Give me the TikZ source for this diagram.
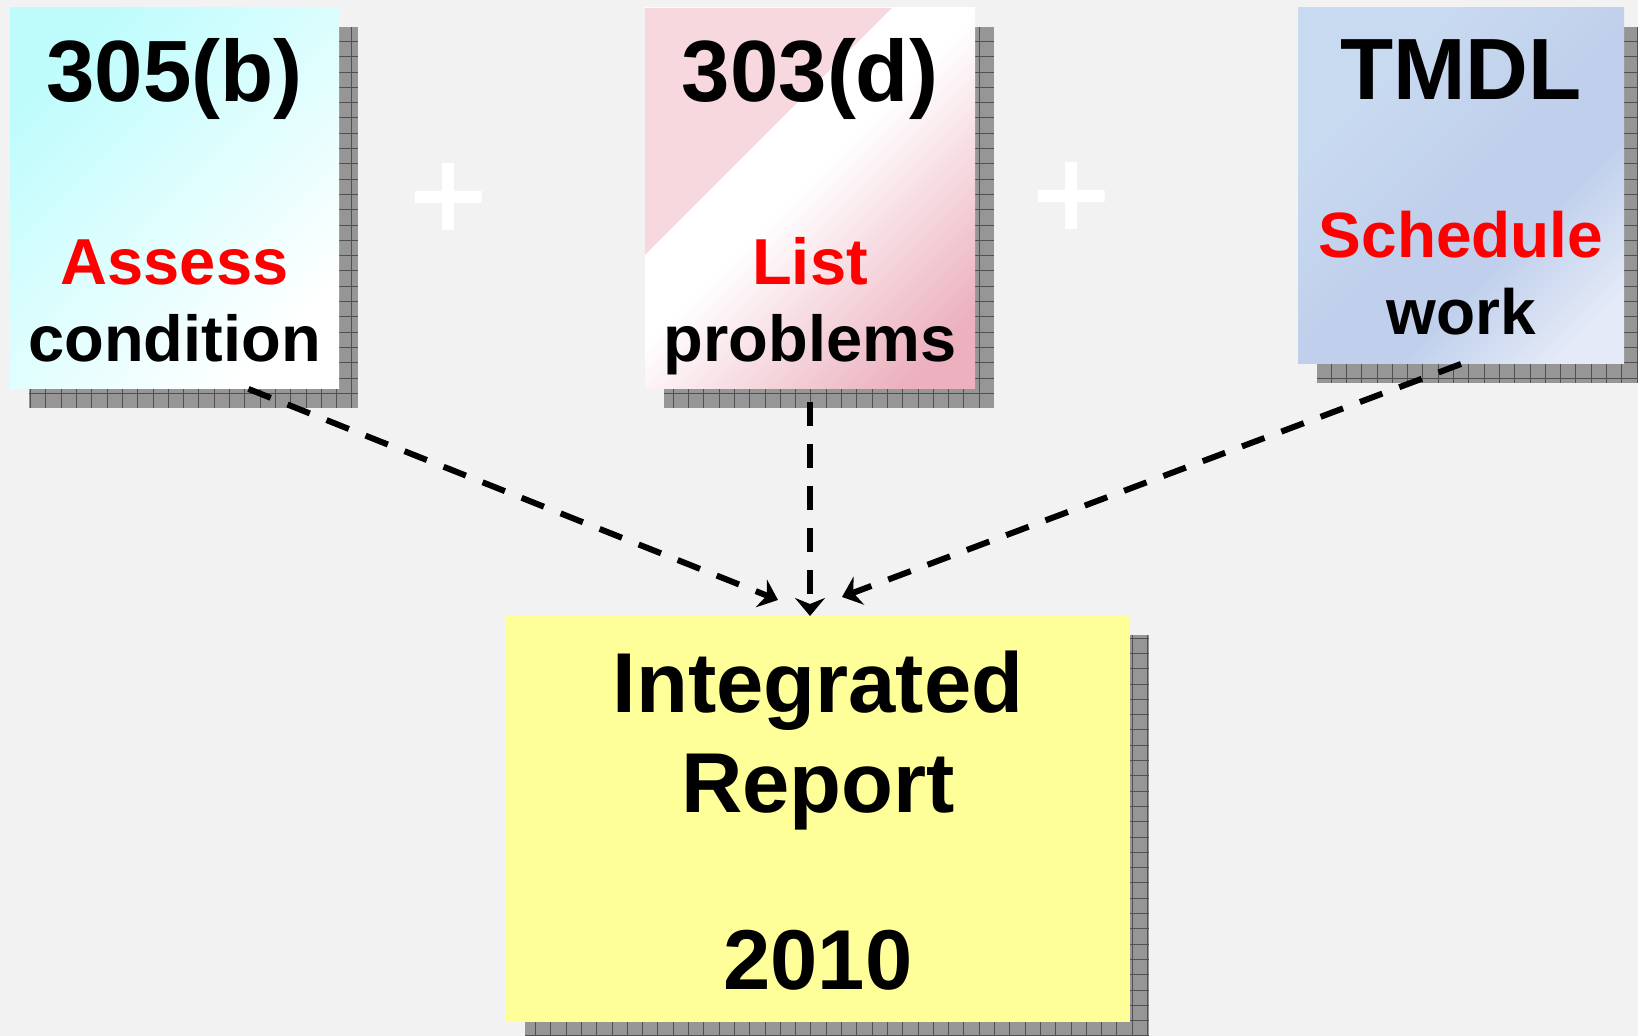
\documentclass[tikz,border=0pt]{standalone}
\usepackage{fontspec}
\setmainfont{Liberation Sans}
\usetikzlibrary{arrows.meta,backgrounds}
\definecolor{bgray}{RGB}{242,242,242}
\definecolor{cyanA}{RGB}{190,252,252}
\definecolor{pinkA}{RGB}{246,216,222}
\definecolor{pinkB}{RGB}{236,176,190}
\definecolor{blueA}{RGB}{200,218,240}
\definecolor{blueB}{RGB}{192,208,236}
\definecolor{blueC}{RGB}{228,234,247}
\definecolor{irYellow}{RGB}{255,255,153}
\definecolor{shadowfill}{RGB}{150,150,150}
\definecolor{shadowline}{RGB}{80,80,80}
\pgfdeclarehorizontalshading{pinkglare}{100bp}{color(0bp)=(white); color(48bp)=(white); color(78bp)=(pinkB); color(100bp)=(pinkB)}
\pgfdeclarehorizontalshading{tmdlglare}{100bp}{color(0bp)=(blueA); color(30bp)=(blueA); color(50bp)=(blueB); color(62bp)=(blueB); color(78bp)=(blueC); color(100bp)=(blueC)}
\begin{document}
\begin{tikzpicture}[x=0.5pt,y=0.5pt,card/.style 2 args={minimum width=#1,minimum height=#2,inner sep=0pt,outer sep=0pt},head/.style={anchor=base,inner sep=0pt,font=\fontsize{43.5}{52}\selectfont\bfseries},bighead/.style={head,font=\fontsize{42.5}{51}\selectfont\bfseries},note/.style={anchor=base,inner sep=0pt,font=\fontsize{32.5}{39}\selectfont\bfseries},hot/.style={note,text=red},link/.style={line width=3pt,dash pattern=on 12pt off 9pt,-{Stealth[length=9pt,width=15pt,inset=3pt]}},plussign/.style={minimum size=33.5pt,inner sep=0pt,path picture={\draw[white,line width=6pt] (path picture bounding box.north) -- (path picture bounding box.south) (path picture bounding box.west) -- (path picture bounding box.east);}}]
\useasboundingbox (0,0) rectangle (1638,1036);
\node[card={164.5pt}{190.5pt},shade,top color=cyanA,bottom color=white,shading angle=45] (b305) at (174.5,837.5) {};
\node[card={165pt}{190.5pt},shade,shading=pinkglare,shading angle=-45,path picture={\fill[pinkA] (path picture bounding box.north west) -- ++(123.5pt,0) -- ++(-123.5pt,-123.5pt) -- cycle;}] (d303) at (810,837.5) {};
\node[card={163pt}{178pt},shade,shading=tmdlglare,shading angle=-45] (tmdl) at (1461,850) {};
\node[card={312pt}{203pt},fill=irYellow] (ir) at (818,217) {};
\begin{scope}[on background layer]
\fill[bgray] (0,0) rectangle (1638,1036);
\foreach \n in {b305,d303,tmdl,ir}{
\fill[shadowfill] ([shift={(9.5pt,-9.5pt)}]\n.south west) rectangle ([shift={(9.5pt,-9.5pt)}]\n.north east);
\draw[shadowline,line width=0.5pt,step=7.65pt] ([shift={(9.5pt,-9.5pt)}]\n.south west) grid ([shift={(9.5pt,-9.5pt)}]\n.north east);}
\end{scope}
\node[head] (t305) at ([yshift=-47pt]b305.north) {305(b)};
\node[hot] (assess) at ([yshift=-138.5pt]b305.north) {Assess};
\node[note] (cond) at ([yshift=-177pt]b305.north) {condition};
\node[head] (t303) at ([yshift=-47pt]d303.north) {303(d)};
\node[hot] (list) at ([yshift=-138.5pt]d303.north) {List};
\node[note] (probs) at ([yshift=-177pt]d303.north) {problems};
\node[head] (ttmdl) at ([yshift=-46pt]tmdl.north) {TMDL};
\node[hot,font=\fontsize{32}{38}\selectfont\bfseries] (sched) at ([yshift=-125pt]tmdl.north) {Schedule};
\node[note,font=\fontsize{32}{38}\selectfont\bfseries] (work) at ([yshift=-163.5pt]tmdl.north) {work};
\node[bighead] (integ) at ([yshift=-48.5pt]ir.north) {Integrated};
\node[bighead] (report) at ([yshift=-98.5pt]ir.north) {Report};
\node[bighead] (year) at ([yshift=-187pt]ir.north) {2010};
\node[plussign] (plus1) at (448,839) {};
\node[plussign] (plus2) at (1071,840) {};
\draw[link] ([xshift=37pt]b305.south) -- ([shift={(-20pt,8pt)}]ir.north);
\draw[link,dash phase=14.5pt] (d303.south) -- (d303.south |- ir.north);
\draw[link] (tmdl.south) -- ([shift={(12pt,9.5pt)}]ir.north);
\end{tikzpicture}
\end{document}
